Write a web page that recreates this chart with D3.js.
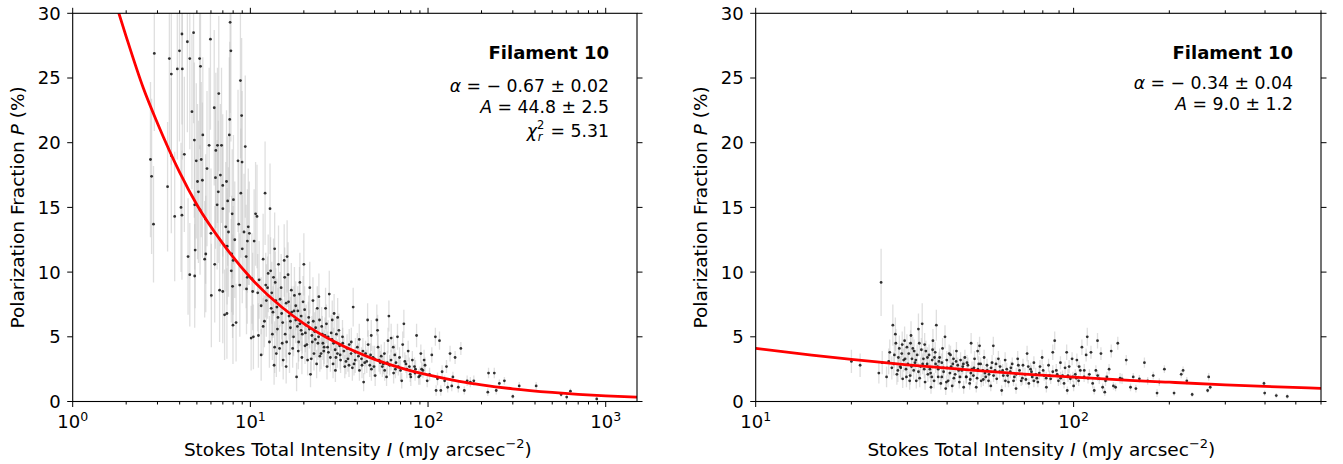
<!DOCTYPE html>
<html>
<head>
<meta charset="utf-8">
<script src="https://cdn.jsdelivr.net/npm/d3@7"></script>
<style>
  body { margin: 0; background: #fff; }
  svg { font-family: "DejaVu Sans", sans-serif; }
</style>
</head>
<body>
<svg id="chart" width="1343" height="464"></svg>
<script>

// [I (mJy arcsec^-2), P (%), error on P]
var pointsLeft = [
  [2.74,18.7,6],[2.78,17.4,6],[2.88,26.9,6],[2.85,13.7,4.5],[3.42,16.6,5],[3.5,26.5,7],[3.59,25.3,7],
  [3.59,19.0,6],[3.75,14.3,5],[3.88,25.7,7],[3.99,27.1,7],[4.07,15.0,5],[4.12,28.4,7],[4.12,14.4,5],
  [4.14,25.7,7],[4.25,19.1,6],[4.42,27.8,7],[4.46,11.2,4.5],[4.56,26.5,7],[4.56,9.8,4],[4.69,22.4,6],
  [4.79,28.5,7],[4.84,20.2,6],[4.86,15.2,5],[4.89,11.7,4.5],[4.86,9.7,4],[4.96,18.6,6],[5.04,17.0,6],
  [5.10,16.2,5.5],[5.18,26.5,7],[5.24,25.9,7],[5.21,14.8,5],[5.29,18.7,6],[5.37,17.1,6],[5.40,20.6,6],
  [5.53,11.0,4.5],[5.61,11.4,4.5],[5.70,18.0,6],[5.86,19.8,6],[5.96,28.0,7],[6.03,8.2,4],[6.26,22.7,6],
  [6.36,17.3,5.5],[6.39,19.4,6],[6.50,15.2,5],[6.53,19.8,6],[6.64,23.8,6],[6.71,8.6,4],[6.78,17.5,5.5],
  [6.88,19.8,6],[6.99,16.7,5.5],[6.99,8.5,4],[7.16,6.7,3.5],[7.27,13.5,5],[7.34,17.0,5.5],[7.38,6.8,3.5],
  [7.45,15.5,5],[7.53,13.1,5],[7.61,20.6,6],[7.65,21.8,6],[7.69,29.3,7],[7.77,27.1,7],[7.85,11.4,4.5],
  [7.90,14.5,5],[7.81,10.1,4],[7.94,8.9,4],[7.98,5.9,3],[8.03,15.6,5],[8.17,12.5,4.5],[8.31,6.1,3],
  [8.52,18.6,5.5],[8.72,9.0,4],[8.79,24.8,6],[8.84,16.1,5],[8.93,22.1,6],[8.98,18.5,5.5],[9.21,13.1,4.5],
  [9.36,19.7,5.5],[9.47,11.2,4],[9.51,8.7,3.5],[9.62,12.4,4],[9.73,13.5,4.5],[9.87,13.0,4],[10.1,4.9,2.5],
  [10.2,9.5,3.5],[10.3,8.5,3],[10.4,5.0,2.5],[10.5,12.4,4],[10.7,14.5,4],[10.9,14.3,4],[11.0,8.4,3],
  [11.1,5.1,2.5],[11.2,9.4,3],[11.5,3.6,2],[11.8,11.0,3.5],[12.1,16.1,4],[12.3,7.8,2.8],[12.6,9.9,3],
  [12.9,14.9,3.5],[13.1,7.2,2.5],[13.3,5.2,2],[13.5,9.6,3],[13.6,2.8,1.5],[13.7,4.2,2],[13.9,7.8,2.5],
  [14.0,3.7,1.8],[14.3,6.5,2.3],[14.4,10.6,3],[14.6,4.1,1.8],[14.9,8.8,2.6],[15.1,4.5,1.8],[15.3,3.2,1.5],
  [15.5,10.9,2.8],[15.7,5.2,1.8],[15.9,2.7,1.3],[16.1,11.2,2.8],[16.4,7.7,2.2],[16.6,3.7,1.5],[16.8,5.7,1.8],
  [17.1,6.9,2],[17.3,4.1,1.5],[17.7,8.2,2.2],[18.0,6.3,1.8],[18.2,1.9,1.1],[18.5,7.0,1.9],[18.7,4.6,1.5],
  [18.9,8.3,2.1],[19.3,5.5,1.6],[19.5,3.4,1.3],[19.8,7.7,2],[20.0,10.6,2.4],[20.3,4.3,1.4],[20.6,5.9,1.6],
  [21.0,3.2,1.2],[21.3,6.5,1.7],[21.6,8.8,2],[21.8,2.1,1],[22.2,5.1,1.5],[22.5,7.8,1.8],[22.8,3.7,1.3],
  [23.3,5.7,1.5],[23.6,2.9,1.1],[24.0,4.5,1.3],[24.3,8.1,1.8],[24.5,6.3,1.6],[25.0,3.7,1.2],[25.4,5.2,1.4],
  [25.9,3.9,1.2],[26.5,7.2,1.6],[27.0,2.7,1],[27.4,5.0,1.3],[27.8,8.3,1.8],[28.2,3.4,1.1],[28.9,6.3,1.5],
  [29.4,4.5,1.2],[29.6,6.8,1.5],[30.1,2.4,0.9],[30.5,5.2,1.3],[30.9,3.7,1.1],[31.5,5.5,1.3],[32.2,3.2,1],
  [33.1,4.5,1.2],[34.0,2.7,0.9],[35.0,4.1,1.1],[35.9,2.8,0.9],[36.9,3.7,1],[37.9,7.3,1.5],[38.9,3.2,1],
  [40.0,4.2,1.1],[41.1,2.4,0.8],[42.2,3.3,0.9],[43.4,1.5,0.7],[44.5,3.7,1],[45.7,6.3,1.3],[47.0,2.8,0.9],
  [47.9,5.1,1.2],[49.0,3.4,0.9],[50.4,2.0,0.8],[51.5,6.3,1.2],[52.3,4.2,1],[53.8,3.0,0.9],[55.3,2.7,0.8],
  [56.8,3.7,0.9],[58.4,1.9,0.7],[59.5,4.7,1],[60.2,6.6,1.2],[61.9,3.2,0.8],[63.7,4.2,0.9],[65.5,2.5,0.7],
  [67.3,5.0,1],[69.1,3.4,0.8],[71.1,1.6,0.6],[73.1,6.0,1.1],[75.1,2.9,0.7],[77.3,3.9,0.8],[79.4,2.1,0.6],
  [81.6,3.2,0.7],[83.9,2.7,0.7],[86.2,5.1,0.9],[88.6,1.9,0.6],[91.1,3.7,0.7],[93.6,2.4,0.6],[96.2,2.8,0.6],
  [98.9,1.6,0.5],[102,2.1,0.5],[105,3.6,0.6],[110,5.0,0.7],[111,0.85,0.4],[113,1.75,0.5],[116,4.7,0.7],
  [118,0.85,0.4],[120,2.3,0.5],[124,1.6,0.4],[127,2.7,0.5],[129,1.1,0.4],[133,3.7,0.6],[136,1.2,0.4],
  [138,1.9,0.4],[142,3.4,0.5],[148,1.1,0.4],[153,4.1,0.5],[160,0.85,0.3],[166,1.6,0.4],[173,1.5,0.4],
  [181,1.6,0.4],[217,0.72,0.3],[219,2.2,0.4],[236,2.2,0.4],[242,0.85,0.3],[252,1.4,0.3],[269,1.6,0.3],
  [300,0.39,0.2],[326,1.2,0.3],[406,1.2,0.3],[561,0.54,0.2],[603,0.34,0.2],[633,0.8,0.2],[890,0.2,0.15],
  [11.5,7.4,2.2],[12.0,6.2,2],[12.5,8.8,2.4],[13.0,10.1,2.6],[13.4,6.9,2],[13.8,9.2,2.4],[14.2,5.6,1.8],
  [14.7,7.9,2.1],[15.2,6.1,1.8],[15.6,9.6,2.3],[16.0,4.6,1.6],[16.5,6.6,1.8],[17.0,8.6,2.1],[17.5,5.0,1.5],
  [18.0,7.4,1.9],[18.6,3.9,1.4],[19.0,6.0,1.7],[19.6,5.2,1.5],[20.2,7.1,1.8],[20.8,4.4,1.3],[21.5,5.6,1.5],
  [22.0,3.3,1.2],[22.6,6.2,1.6],[23.2,4.8,1.4],[23.8,7.2,1.7],[24.6,3.5,1.2],[25.2,5.8,1.5],[26.0,4.2,1.3],
  [26.8,6.0,1.5],[27.5,3.8,1.2],[28.5,5.3,1.4],[29.2,2.9,1.1],[30.0,4.0,1.2],[31.0,6.5,1.5],[32.0,3.6,1.1],
  [33.0,5.0,1.3],[34.5,3.1,1],[36.0,4.4,1.2],[37.5,2.6,1],[39.0,3.8,1.1],[41.0,4.8,1.2],[42.5,2.8,1],
  [44.0,3.0,0.9],[46.0,4.4,1.1],[48.0,2.5,0.9],[50.0,3.3,1],[52.0,5.5,1.2],[54.5,3.5,0.9],[57.0,2.4,0.8],
  [59.0,3.0,0.9],[62.0,4.9,1.1],[64.0,2.2,0.8],[66.0,3.0,0.8],[70.0,2.4,0.8],[72.0,4.4,1],[76.0,2.5,0.7],
  [80.0,1.9,0.7],[85.0,2.5,0.7],[90.0,2.0,0.7],[95.0,3.2,0.8],[6.0,13.0,5],[6.6,16.2,5.5],[7.4,12.0,4.5],
  [8.0,10.9,4.2],[8.6,13.7,4.8],[9.0,11.8,4.2],[9.6,9.6,3.6],[5.6,14.1,5],[6.3,10.6,4.5],[7.0,14.9,5],
  [12.2,9.0,2.5],[13.2,8.4,2.4],[14.1,7.3,2.2],[15.0,6.8,2],[15.9,7.6,2.1],[16.8,6.2,1.9],[17.6,7.0,1.9],
  [18.4,5.8,1.7],[19.3,6.6,1.8],[20.4,5.3,1.5],[21.2,6.1,1.6],[22.3,4.6,1.4],[23.0,5.4,1.5],[24.2,5.0,1.4],
  [25.6,4.5,1.3],[26.3,5.1,1.4],[27.2,4.2,1.2],[28.8,4.8,1.3],[30.3,3.4,1.1],[31.8,4.3,1.1],[33.6,3.9,1.1],
  [35.4,3.3,1],[37.0,4.6,1.1],[38.3,2.9,0.9],[40.6,3.5,1],[43.0,3.9,1],[45.2,3.1,0.9],[47.5,3.6,0.9],
  [49.6,2.7,0.8],[53.0,3.2,0.9],[56.0,2.9,0.8],[60.8,2.8,0.8],[65.0,3.6,0.8],[68.0,2.7,0.7],[74.0,3.1,0.7],
  [78.5,2.7,0.7],[84.5,2.2,0.6],[92.0,2.5,0.6],[13.7,11.8,2.8],[16.3,9.8,2.5],[19.0,9.2,2.3],[11.8,5.8,2.2],
  [12.8,4.6,2]
];

var pointsRight = [
  [20.0,3.1,0.9],[21.3,2.8,0.9],[24.4,2.2,0.8],[24.8,9.2,2.6],[25.0,3.0,0.9],[25.8,1.9,0.8],[26.4,3.8,1],
  [27.0,5.9,1.6],[27.2,2.9,0.9],[27.5,5.2,1.3],[27.6,4.5,1.1],[27.8,2.1,0.8],[28.1,3.4,0.9],[28.3,4.1,1],
  [28.5,2.7,0.8],[28.8,3.7,0.9],[29.0,1.75,0.7],[29.2,3.2,0.9],[29.4,4.7,1.1],[29.7,2.5,0.8],[29.9,4.2,1],
  [30.1,2.9,0.8],[30.3,3.7,0.9],[30.6,2.0,0.7],[30.8,5.1,1.1],[31.0,3.3,0.8],[31.2,4.1,0.9],[31.4,2.4,0.7],
  [31.7,3.0,0.8],[32.0,1.6,0.6],[32.2,3.6,0.8],[32.5,5.6,1.2],[32.7,4.5,1],[33.0,2.7,0.7],[33.4,6.0,1.6],
  [33.7,3.3,0.8],[34.1,1.5,0.6],[34.3,3.9,0.8],[34.6,2.9,0.7],[34.8,2.1,0.6],[35.1,3.6,0.8],[35.3,2.5,0.7],
  [35.6,1.1,0.5],[35.9,3.2,0.7],[36.1,4.7,0.9],[36.4,1.6,0.6],[36.7,3.8,0.8],[37.0,5.9,1.2],[37.3,2.7,0.7],
  [37.5,1.9,0.6],[37.9,3.4,0.7],[38.2,1.4,0.5],[38.5,3.0,0.7],[38.7,4.1,0.8],[39.0,2.3,0.6],[39.4,5.0,0.9],
  [39.6,1.0,0.5],[39.9,3.2,0.7],[40.3,1.6,0.5],[40.6,3.7,0.7],[41.2,2.7,0.6],[41.5,1.2,0.5],[41.9,3.3,0.7],
  [42.4,2.1,0.6],[42.8,3.9,0.7],[43.2,2.8,0.6],[43.7,1.5,0.5],[44.1,3.2,0.6],[44.5,2.4,0.6],[45.1,1.1,0.5],
  [45.5,3.4,0.6],[45.9,1.9,0.5],[46.5,2.8,0.6],[47.1,1.4,0.5],[47.6,4.5,0.8],[47.9,2.5,0.6],[48.4,2.0,0.5],
  [48.8,3.3,0.6],[49.4,1.1,0.4],[49.9,3.9,0.7],[50.3,2.9,0.6],[50.6,4.3,0.7],[51.2,1.6,0.5],[51.8,2.4,0.5],
  [52.3,3.4,0.6],[52.9,1.9,0.5],[53.4,2.8,0.5],[54.2,2.1,0.5],[54.9,1.2,0.4],[55.4,3.0,0.6],[55.9,4.3,0.7],
  [56.6,2.4,0.5],[57.3,1.75,0.4],[58.0,3.3,0.6],[58.7,2.7,0.5],[59.4,0.85,0.4],[60.1,2.0,0.5],[60.9,3.2,0.6],
  [61.6,2.5,0.5],[62.4,1.5,0.4],[63.2,2.3,0.5],[64.1,2.9,0.5],[65.1,1.9,0.4],[65.9,1.0,0.4],[66.7,3.3,0.6],
  [67.6,2.4,0.5],[68.4,1.6,0.4],[69.3,2.8,0.5],[70.3,2.1,0.5],[71.4,3.7,0.6],[72.3,1.4,0.4],[73.2,2.5,0.5],
  [74.1,1.9,0.4],[75.0,3.0,0.5],[76.0,2.1,0.5],[77.2,1.5,0.4],[78.4,2.7,0.5],[79.6,3.4,0.6],[80.8,2.0,0.4],
  [82.1,1.1,0.4],[83.4,2.8,0.5],[84.7,1.75,0.4],[86.0,3.8,0.6],[87.2,4.7,0.7],[88.2,2.4,0.5],[89.6,1.6,0.4],
  [90.9,3.0,0.5],[92.3,2.0,0.4],[93.3,1.4,0.4],[95.1,3.8,0.6],[95.5,0.85,0.3],[96.8,2.7,0.5],[97.7,1.75,0.4],
  [98.9,3.3,0.5],[100,1.2,0.4],[101.2,2.1,0.4],[102.4,3.2,0.5],[103.7,1.6,0.4],[105,2.4,0.4],[106.2,4.2,0.6],
  [107.9,1.9,0.4],[109.5,3.6,0.5],[110.4,5.0,0.7],[112.1,2.1,0.4],[113.4,3.8,0.5],[114.8,1.4,0.4],
  [116.1,0.85,0.3],[117.5,2.4,0.4],[118.9,4.7,0.6],[120.4,1.75,0.4],[121.9,3.7,0.5],[123.4,1.1,0.3],
  [125.3,0.72,0.3],[127.3,1.9,0.4],[129.3,2.5,0.4],[131.3,3.9,0.5],[133.4,1.2,0.3],[135.5,1.1,0.3],
  [137.7,4.5,0.5],[142,1.75,0.4],[146.4,3.2,0.4],[151,1.1,0.3],[154,1.9,0.3],[157,1.0,0.3],[161,1.75,0.3],
  [167,3.0,0.4],[171,1.6,0.3],[178,2.0,0.3],[183,0.65,0.3],[186,1.5,0.3],[193,2.5,0.3],[207,0.65,0.2],
  [218,2.1,0.3],[221,2.4,0.3],[227,1.6,0.3],[236,0.54,0.2],[264,0.85,0.2],[266,1.9,0.3],[269,1.1,0.2],
  [397,1.4,0.2],[399,0.65,0.2],[434,0.46,0.2],[470,0.39,0.2],
  [28.0,2.4,0.9],[29.5,3.3,0.9],[30.5,1.6,0.7],[31.5,3.9,0.9],[32.5,2.3,0.7],[33.5,2.9,0.8],[34.0,4.4,0.9],
  [35.5,2.2,0.7],[36.5,3.4,0.8],[37.5,2.5,0.6],[38.5,1.9,0.6],[40.0,2.6,0.6],[41.0,3.6,0.7],[42.0,1.8,0.6],
  [43.5,2.4,0.6],[45.0,2.9,0.6],[46.0,1.9,0.5],[47.5,2.2,0.5],[50.0,2.5,0.5],[52.0,1.7,0.5],[53.5,2.4,0.5],
  [56.0,2.0,0.5],[58.5,2.3,0.5],[61.0,1.6,0.5],[63.5,2.6,0.5],[66.0,2.1,0.5],[69.0,1.8,0.5],[72.0,2.7,0.5],
  [75.0,1.6,0.5],[78.0,2.2,0.5],[82.0,1.8,0.5],[86.0,2.3,0.5],[91.0,1.8,0.5],[96.0,2.0,0.5],[102,1.8,0.5],
  [108,2.4,0.5],
  [27.3,3.6,1],[28.6,2.6,0.9],[29.8,1.9,0.8],[30.9,2.7,0.8],[31.9,3.2,0.8],[32.8,1.8,0.7],[33.9,2.5,0.7],
  [34.7,3.4,0.8],[35.8,1.9,0.6],[36.8,2.9,0.7],[37.7,3.1,0.7],[38.9,2.6,0.6],[39.8,1.5,0.5],[40.8,2.2,0.6],
  [41.7,2.9,0.6],[42.7,3.1,0.6],[43.9,1.9,0.5],[44.8,2.7,0.6],[46.2,3.0,0.6],[47.3,1.7,0.5],[48.6,2.6,0.5],
  [49.7,1.8,0.5],[51.0,2.9,0.5],[52.6,2.2,0.5],[54.0,1.6,0.5],[55.0,2.6,0.5],[57.0,2.9,0.5],[59.8,2.4,0.5],
  [62.0,2.0,0.5],[64.7,1.6,0.4],[67.0,2.8,0.5],[70.8,1.7,0.4],[73.7,2.3,0.5],[76.6,1.8,0.4],[80.2,2.4,0.5],
  [84.0,2.0,0.4],[88.8,2.1,0.4],[94.0,2.6,0.5],[99.5,1.9,0.4],[104,2.7,0.4],[111,1.8,0.4],[119,2.0,0.4],
  [126,1.6,0.4],[140,1.8,0.4],[28.9,4.4,1],[30.7,4.5,1],[33.2,4.0,0.9],[36.0,4.0,0.8],[26.8,2.6,0.9],
  [26.2,3.1,1]
];

// fitted power law
var fitLeft = [
  [1.8,30.2],[2,28.2],[2.5,24.2],[3,21.5],[4,17.7],[5,15.2],[7,12.2],[10,9.58],[15,7.30],[20,6.02],
  [30,4.59],[50,3.26],[70,2.60],[100,2.05],[150,1.56],[200,1.29],[300,0.98],[500,0.70],[700,0.556],
  [1000,0.438],[1500,0.334]
];
var fitRight = [
  [10,4.11],[15,3.58],[20,3.25],[30,2.83],[50,2.38],[70,2.12],[100,1.88],[150,1.64],[200,1.49],
  [300,1.29],[400,1.17],[600,1.02]
];

var yTicks = [0, 5, 10, 15, 20, 25, 30];
var labelsLeft = [["α", " = − 0.67 ± 0.02"], ["A", " = 44.8 ± 2.5"]];
var labelsRight = [["α", " = − 0.34 ± 0.04"], ["A", " = 9.0 ± 1.2"]];
var chiLeft = "5.31";

var svg = d3.select("#chart");
var top_ = 13.3, bottom = 401.5;

function panel(id, points, fit, domain, range, labels, chi, lineY) {
    var x = d3.scaleLog().domain(domain).range(range);
    var y = d3.scaleLinear().domain([0, 30]).range([bottom, top_]);
    var g = svg.append("g");

    g.append("clipPath").attr("id", "clip" + id)
      .append("rect")
        .attr("x", range[0]).attr("y", top_)
        .attr("width", range[1] - range[0]).attr("height", bottom - top_);

    var plot = g.append("g").attr("clip-path", `url(#clip${id})`);

    plot.append("g")
        .attr("stroke", "#c4c4c4")
        .attr("stroke-opacity", 0.55)
        .attr("stroke-width", 1.3)
      .selectAll("line")
      .data(points)
      .join("line")
        .attr("x1", d => x(d[0])).attr("x2", d => x(d[0]))
        .attr("y1", d => y(d[1] - d[2])).attr("y2", d => y(d[1] + d[2]));

    plot.append("g")
        .attr("fill", "#111")
        .attr("fill-opacity", 0.85)
      .selectAll("circle")
      .data(points)
      .join("circle")
        .attr("cx", d => x(d[0]))
        .attr("cy", d => y(d[1]))
        .attr("r", 1.4);

    plot.append("path")
        .datum(fit)
        .attr("fill", "none")
        .attr("stroke", "#ff0000")
        .attr("stroke-width", 2.8)
        .attr("d", d3.line().x(d => x(d[0])).y(d => y(d[1])).curve(d3.curveMonotoneX));

    // ticks
    var decades = [], minors = [];
    for (var e = Math.floor(Math.log10(domain[0])); e <= Math.ceil(Math.log10(domain[1])); e++) {
        var base = Math.pow(10, e);
        if (base >= domain[0] && base <= domain[1] * 1.0001) decades.push(e);
        for (var m = 2; m <= 9; m++) {
            var v = m * base;
            if (v >= domain[0] && v <= domain[1] * 1.0001) minors.push(v);
        }
    }

    var ticks = g.append("g").attr("stroke", "#000").attr("stroke-width", 1);
    minors.forEach(v => {
        ticks.append("line").attr("x1", x(v)).attr("x2", x(v)).attr("y1", bottom).attr("y2", bottom + 3);
        ticks.append("line").attr("x1", x(v)).attr("x2", x(v)).attr("y1", top_).attr("y2", top_ - 3);
    });
    decades.forEach(e => {
        var v = Math.pow(10, e);
        ticks.append("line").attr("x1", x(v)).attr("x2", x(v)).attr("y1", bottom).attr("y2", bottom + 5.5);
        ticks.append("line").attr("x1", x(v)).attr("x2", x(v)).attr("y1", top_).attr("y2", top_ - 5.5);
    });
    yTicks.forEach(v => {
        ticks.append("line").attr("x1", range[0] - 5.5).attr("x2", range[0]).attr("y1", y(v)).attr("y2", y(v));
        ticks.append("line").attr("x1", range[1]).attr("x2", range[1] + 5.5).attr("y1", y(v)).attr("y2", y(v));
    });

    g.append("rect")
        .attr("x", range[0]).attr("y", top_)
        .attr("width", range[1] - range[0]).attr("height", bottom - top_)
        .attr("fill", "none").attr("stroke", "#000").attr("stroke-width", 1.1);

    // tick labels
    g.append("g").attr("font-size", 18).attr("text-anchor", "end")
      .selectAll("text").data(yTicks).join("text")
        .attr("x", range[0] - 12)
        .attr("y", d => y(d))
        .attr("dy", "0.36em")
        .text(d => d);

    var xl = g.append("g").attr("font-size", 18).attr("text-anchor", "middle")
      .selectAll("text").data(decades).join("text")
        .attr("x", d => x(Math.pow(10, d)))
        .attr("y", 428);
    xl.append("tspan").text("10");
    xl.append("tspan").attr("font-size", 12.5).attr("dy", -7.5).text(d => d);

    // axis titles
    var xt = g.append("text").attr("font-size", 18.5).attr("text-anchor", "middle")
        .attr("x", (range[0] + range[1]) / 2 + 3).attr("y", 456);
    xt.append("tspan").text("Stokes Total Intensity ");
    xt.append("tspan").attr("font-style", "italic").text("I");
    xt.append("tspan").text(" (mJy arcsec");
    xt.append("tspan").attr("font-size", 13).attr("dy", -8).text("−2");
    xt.append("tspan").attr("dy", 8).text(")");

    var yt = g.append("text").attr("font-size", 18.5).attr("text-anchor", "middle")
        .attr("transform", `translate(${range[0] - 48.5},${(top_ + bottom) / 2}) rotate(-90)`);
    yt.append("tspan").text("Polarization Fraction ");
    yt.append("tspan").attr("font-style", "italic").text("P");
    yt.append("tspan").text(" (%)");

    // annotation
    var tx = range[1] - 28;
    g.append("text").attr("x", tx).attr("y", 59.3)
        .attr("text-anchor", "end").attr("font-size", 18).attr("font-weight", "bold")
        .text("Filament 10");

    labels.forEach((l, i) => {
        var t = g.append("text").attr("x", tx).attr("y", lineY[i])
            .attr("text-anchor", "end").attr("font-size", 17.3);
        t.append("tspan").attr("font-style", "italic").text(l[0]);
        t.append("tspan").text(l[1]);
    });

    if (chi) {
        var t = g.append("text").attr("x", tx).attr("y", lineY[2])
            .attr("text-anchor", "end").attr("font-size", 17.3);
        t.append("tspan").attr("font-style", "italic").text("χ");
        t.append("tspan").attr("font-size", 11.5).attr("dy", -8).text("2");
        t.append("tspan").attr("font-size", 11.5).attr("font-style", "italic")
            .attr("dx", -6.5).attr("dy", 11.5).text("r");
        t.append("tspan").attr("dx", 2.5).attr("dy", -3.5).text(" = " + chi);
    }
}

panel("L", pointsLeft, fitLeft, [1, 1500], [72.7, 637], labelsLeft, chiLeft, [91.7, 113.3, 137.3]);
panel("R", pointsRight, fitRight, [10, 600], [755.7, 1321], labelsRight, null, [89.3, 110.3]);

</script>
</body>
</html>
